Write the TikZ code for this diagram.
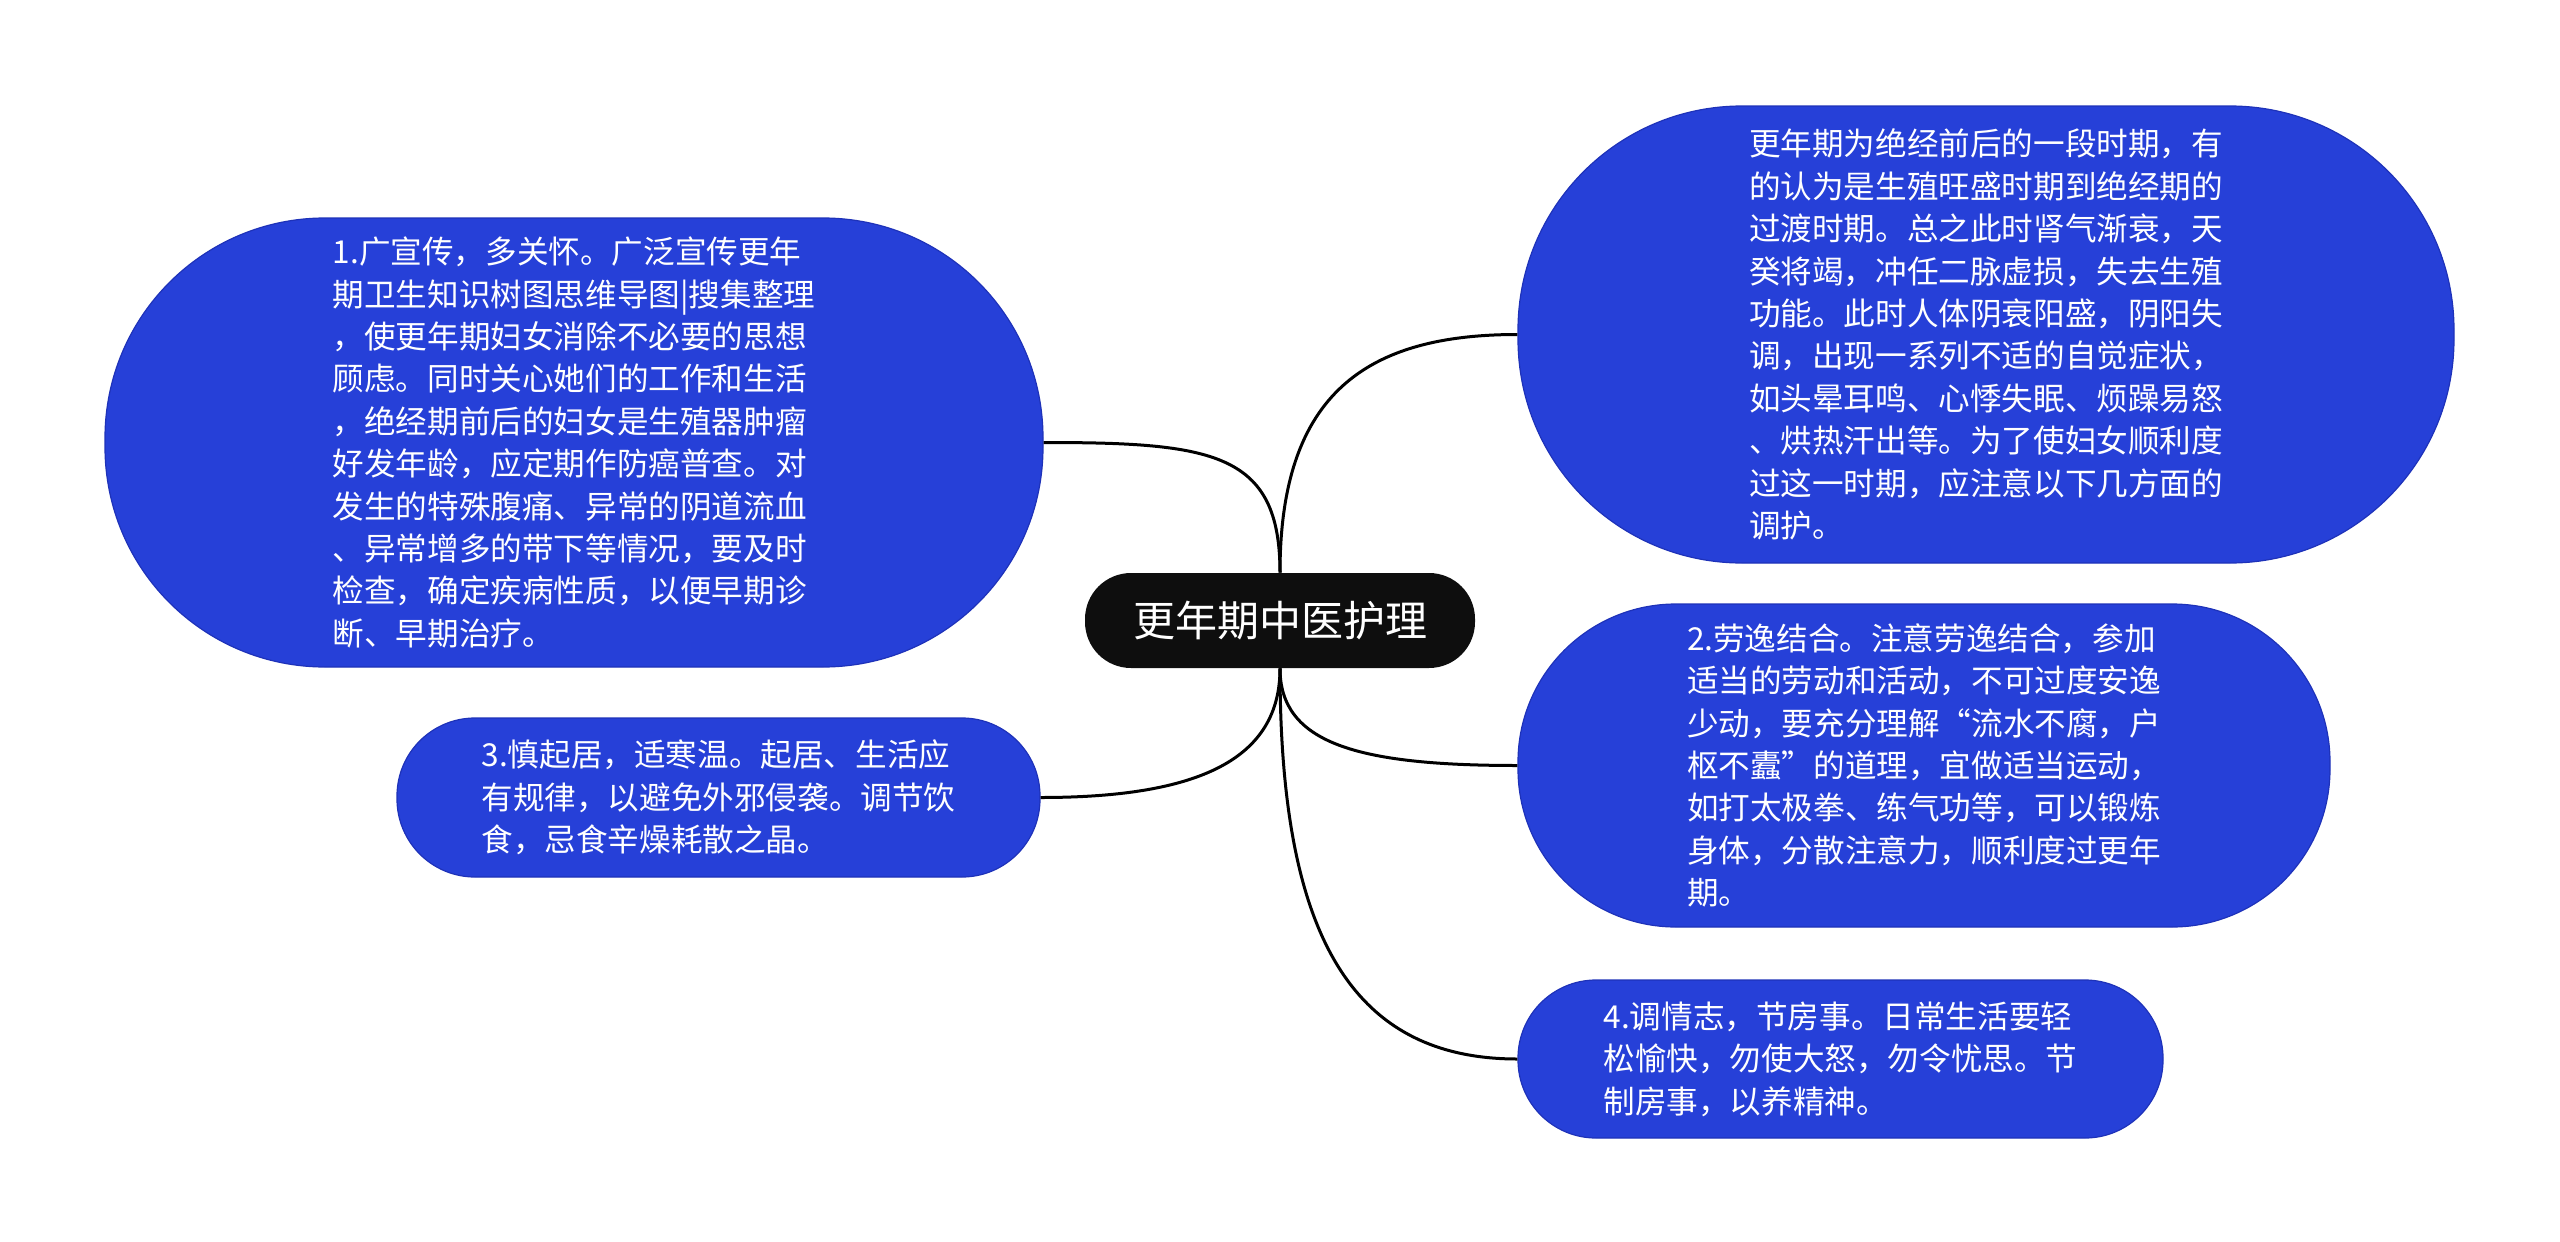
\documentclass[tikz,border=0pt]{standalone}
\usepackage{fontspec}
\setmainfont{Noto Sans CJK SC}
\newfontfamily\fwq[CharacterWidth=Full]{Noto Sans CJK SC}
\definecolor{nodeblue}{RGB}{38,64,216}
\definecolor{nodeedge}{RGB}{30,50,185}
\definecolor{rootfill}{RGB}{14,14,14}
\begin{document}
\begin{tikzpicture}[x=0.5pt,y=-0.5pt,
  topic/.style={fill=nodeblue, draw=nodeedge, line width=0.6pt, text=white,
    align=left, inner sep=0pt, font=\fontsize{15.8}{21.2}\selectfont},
  root/.style={fill=rootfill, text=white, rounded corners=23pt,
    minimum width=195pt, minimum height=47.5pt, inner sep=0pt,
    font=\fontsize{21}{25}\selectfont},
  link/.style={line width=1.5pt, draw=black}]
\useasboundingbox (0,0) rectangle (2560,1242);

\node[root] (c) at (1280,620.5) {更年期中医护理};

\node[topic, minimum width=469pt, minimum height=224.5pt, rounded corners=110pt] (n1) at (574,442.5)
{1.广宣传，多关怀。广泛宣传更年\\
期卫生知识树图思维导图|搜集整理\\
，使更年期妇女消除不必要的思想\\
顾虑。同时关心她们的工作和生活\\
，绝经期前后的妇女是生殖器肿瘤\\
好发年龄，应定期作防癌普查。对\\
发生的特殊腹痛、异常的阴道流血\\
、异常增多的带下等情况，要及时\\
检查，确定疾病性质，以便早期诊\\
断、早期治疗。};

\node[topic, minimum width=468pt, minimum height=228.5pt, rounded corners=112pt] (r1) at (1986,334.5)
{更年期为绝经前后的一段时期，有\\
的认为是生殖旺盛时期到绝经期的\\
过渡时期。总之此时肾气渐衰，天\\
癸将竭，冲任二脉虚损，失去生殖\\
功能。此时人体阴衰阳盛，阴阳失\\
调，出现一系列不适的自觉症状，\\
如头晕耳鸣、心悸失眠、烦躁易怒\\
、烘热汗出等。为了使妇女顺利度\\
过这一时期，应注意以下几方面的\\
调护。};

\node[topic, minimum width=406pt, minimum height=161.5pt, rounded corners=79pt] (n2) at (1924,765.5)
{2.劳逸结合。注意劳逸结合，参加\\
适当的劳动和活动，不可过度安逸\\
少动，要充分理解{\fwq “}流水不腐，户\\
枢不蠹{\fwq ”}的道理，宜做适当运动，\\
如打太极拳、练气功等，可以锻炼\\
身体，分散注意力，顺利度过更年\\
期。};

\node[topic, minimum width=321.5pt, minimum height=79.5pt, rounded corners=39pt] (n3) at (718.5,797.5)
{3.慎起居，适寒温。起居、生活应\\
有规律，以避免外邪侵袭。调节饮\\
食，忌食辛燥耗散之晶。};

\node[topic, minimum width=322.5pt, minimum height=79pt, rounded corners=39pt] (n4) at (1840.5,1059)
{4.调情志，节房事。日常生活要轻\\
松愉快，勿使大怒，勿令忧思。节\\
制房事，以养精神。};

\draw[link] (c.north) .. controls +(0,-120) and +(170,0) .. (n1.east);
\draw[link] (c.north) .. controls +(0,-180) and +(-150,0) .. (r1.west);
\draw[link] (c.south) .. controls +(0,75) and +(-160,0) .. (n2.west);
\draw[link] (c.south) .. controls +(0,90) and +(160,0) .. (n3.east);
\draw[link] (c.south) .. controls +(0,260) and +(-170,0) .. (n4.west);
\end{tikzpicture}
\end{document}
